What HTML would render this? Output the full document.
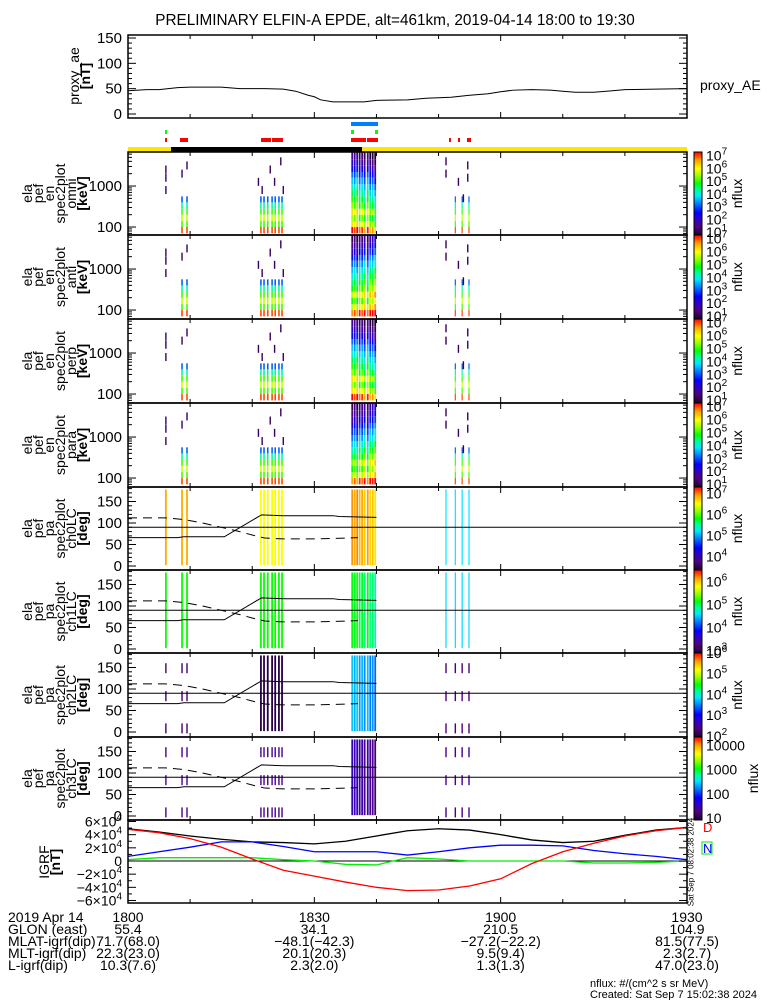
<!DOCTYPE html>
<html><head><meta charset="utf-8"><style>
html,body{margin:0;padding:0;background:#fff;}
svg{display:block;font-family:"Liberation Sans",sans-serif;}
</style></head><body>
<svg id="chart" width="775" height="1000" viewBox="0 0 775 1000" xmlns="http://www.w3.org/2000/svg">
<defs>
<linearGradient id="cmap" x1="0" y1="1" x2="0" y2="0">
<stop offset="0" stop-color="#1a0030"/><stop offset="0.1" stop-color="#500080"/><stop offset="0.2" stop-color="#2a00d0"/><stop offset="0.27" stop-color="#0000ff"/><stop offset="0.38" stop-color="#0080ff"/><stop offset="0.47" stop-color="#00e8ff"/><stop offset="0.55" stop-color="#00ff90"/><stop offset="0.62" stop-color="#00ff00"/><stop offset="0.72" stop-color="#a0ff00"/><stop offset="0.8" stop-color="#ffff00"/><stop offset="0.9" stop-color="#ffa000"/><stop offset="1" stop-color="#ff0000"/>
</linearGradient>
</defs>
<text x="395" y="25" font-size="15.3" text-anchor="middle">PRELIMINARY ELFIN-A EPDE, alt=461km, 2019-04-14 18:00 to 19:30</text>
</svg>
<script>
// ---------- data ----------
const aeTimes=[0,3,5,8,10,15,18,22,25,27,29,30,31,33,38,40,45,48,52,55,58,60,62,65,68,70,72,75,78,80,85,90];
const aeValues=[46,48,48,52,53,53,50,50,49,45,37,34,28,24,24,27,28,31,33,37,40,44,47,48,47,45,43,43,46,48,49,50];
const aeTicks=[0,50,100,150];
const earlyTimes=[8.7,9.5];
const midTimes=[21.4,21.9,22.5,23.2,23.7,24.3,24.8];
const bigTimes=[36.1,36.5,36.9,37.3,37.7,38.1,38.6,39.0,39.4,39.8];
const lateTimes=[52.7,53.8,54.9];
const bigOffsets=[0.3,0,0.4,-0.2,0.1,-0.4,0.2,-0.6,-0.3,-0.8];
const energyEdges=[70,100,140,200,280,400,560,800,1100,1600,2200,3200,4500,6400,9000];
const smallSpec=[6.9,5.0,5.6,5.0,4.2,3.0,null,null,null,null,null,null,null,null];
const bigSpec=[6.9,5.8,5.1,5.8,5.0,4.6,4.2,3.8,3.3,2.8,2.2,1.7,1.3,1.1];
const bigSpecPara=[6.8,5.6,5.0,5.5,4.8,4.3,3.9,3.4,3.0,2.5,2.0,1.6,1.3,1.1];
const dashTimes=[6.1,6.1,6.1,9.5,8.7,21.0,21.6,22.9,23.6,24.6,25.0,51.2,51.2,54.0,54.7,54.7,53.2];
const dashLogE=[3.5,3.3,3.0,3.6,3.4,3.2,3.0,3.5,3.2,3.7,3.0,3.7,3.4,2.8,3.6,3.3,3.2];
const specTicks=[100,1000];
const paTicks=[0,50,100,150];
// pitch-angle channel flux (log10) per group: early, mid, big, late
const paEarlyTimes=[6.1,8.7,9.5];
const paLateTimes=[51.2,52.7,53.8,54.9];
const ch0Vals=[6.8,6.45,6.8,5.15];
const ch1Vals=[5.1,5.1,5.0,4.5];
const ch2Vals=[2.2,2.0,3.6,2.3];
const ch3Vals=[1.3,1.3,1.4,1.3];
const ch0Cover=[1,1,1,1], ch1Cover=[1,1,1,1], ch2Cover=[0,1,1,0], ch3Cover=[0,0,1,0];
const lcTimes=[0,8,9,15.5,21.5,25,33,34,40];
const lcValues=[66,66,68,68,119,117,117,115,113];
const alcTimes=[0,6,9,12,15,18,20,22,25,30,35,37];
const alcValues=[112,112,108,100,90,80,72,65,63,63,65,66];
const igrfTimes=[0,5,10,15,20,25,30,35,40,45,50,55,60,65,70,75,80,85,90];
const igrfBlack=[4.9,4.4,3.8,3.3,2.9,2.8,2.6,3.0,3.8,4.6,4.9,4.7,4.0,3.2,2.8,3.0,3.9,4.7,5.1];
const igrfRed=[4.8,4.3,3.4,2.1,0.3,-1.4,-2.3,-3.2,-4.0,-4.5,-4.4,-3.8,-2.7,-0.4,1.4,2.7,3.8,4.6,5.1];
const igrfBlue=[0.7,1.4,2.1,2.9,2.9,2.2,1.4,1.4,1.4,0.9,1.4,2.0,2.4,2.4,2.3,1.6,1.1,0.7,0.2];
const igrfGreen=[0.2,0.5,0.5,0.5,0.5,0.2,0.0,-0.5,-0.6,0.5,0.3,0.0,0.0,0.0,0.0,-0.3,-0.3,-0.2,0.0];
const igrfTickVals=[6,4,2,0,-2,-4,-6];
const timeLabels=["1800","1830","1900","1930"];
const rowLabels=["2019 Apr 14","GLON (east)","MLAT-igrf(dip)","MLT-igrf(dip)","L-igrf(dip)"];
const rowVals=[["1800","55.4","71.7(68.0)","22.3(23.0)","10.3(7.6)"],["1830","34.1","−48.1(−42.3)","20.1(20.3)","2.3(2.0)"],["1900","210.5","−27.2(−22.2)","9.5(9.4)","1.3(1.3)"],["1930","104.9","81.5(77.5)","2.3(2.7)","47.0(23.0)"]];

// ---------- helpers ----------
const svg=document.getElementById('chart');
const NS='http://www.w3.org/2000/svg';
const X0=128,X1=687;
function xs(t){return X0+t/90*(X1-X0);}
function mk(tag,attrs,parent){const e=document.createElementNS(NS,tag);for(const k in attrs)e.setAttribute(k,attrs[k]);(parent||svg).appendChild(e);return e;}
const stops=[[0,[26,0,48]],[0.1,[80,0,128]],[0.2,[42,0,208]],[0.27,[0,0,255]],[0.38,[0,128,255]],[0.47,[0,232,255]],[0.55,[0,255,144]],[0.62,[0,255,0]],[0.72,[160,255,0]],[0.8,[255,255,0]],[0.9,[255,160,0]],[1,[255,0,0]]];
function cmap(f){f=Math.max(0,Math.min(1,f));for(let i=1;i<stops.length;i++){if(f<=stops[i][0]){const a=stops[i-1],b=stops[i];const u=(f-a[0])/(b[0]-a[0]);const c=a[1].map((v,j)=>Math.round(v+(b[1][j]-v)*u));return 'rgb('+c.join(',')+')';}}return 'rgb(255,0,0)';}
function rotText(x,y,txt,size,name,parent){const t=mk('text',{x:0,y:0,'font-size':size,'text-anchor':'middle','dominant-baseline':'central',transform:'translate('+x+','+y+') rotate(-90)'},parent);t.textContent=txt;return t;}
function frame(top,bot,name){const g=mk('g',{});return g;}
function frameBox(g,top,bot){mk('rect',{x:X0,y:top,width:X1-X0,height:bot-top,fill:'none',stroke:'#000','stroke-width':1.5},g);for(let m=10;m<90;m+=10){const x=xs(m);const L=(m%30==0)?6:4;mk('line',{x1:x,x2:x,y1:top,y2:top+L,stroke:'#000'},g);mk('line',{x1:x,x2:x,y1:bot,y2:bot-L,stroke:'#000'},g);}}
function ytick(g,y,L){mk('line',{x1:X0,x2:X0+L,y1:y,y2:y,stroke:'#000'},g);mk('line',{x1:X1,x2:X1-L,y1:y,y2:y,stroke:'#000'},g);}
function ylabel(g,y,txt){const t=mk('text',{x:122,y:y+5,'font-size':15,'text-anchor':'end'},g);t.textContent=txt;}
function leftLabels(g,lines,cy,x0,name){lines.forEach((s,i)=>{const t=rotText(x0+i*11,cy,s,14,name+'-line',g);if(s.startsWith('['))t.setAttribute('font-weight','bold');});}

// ---------- AE panel ----------
(function(){
 const top=35,bot=118;const g=frame(top,bot,'proxy-ae-panel');
 const ya=v=>114-v*(76/150);
 frameBox(g,top,bot);
 for(let v=0;v<=160;v+=10){ if(ya(v)>top) ytick(g,ya(v),v%50==0?8:4);}
 aeTicks.forEach(v=>ylabel(g,ya(v),String(v)));
 const pts=aeTimes.map((t,i)=>xs(t)+','+ya(aeValues[i])).join(' ');
 const pl=mk('polyline',{points:pts,fill:'none',stroke:'#000','stroke-width':1},g);
 
 leftLabels(g,['proxy_ae','[nT]'],76,74,'ae-axis-title');
 const t=mk('text',{x:700,y:90,'font-size':14},g);t.textContent='proxy_AE';
})();

// ---------- status bars ----------
(function(){
 const g=mk('g',{});
 const bars=[[351,378,122,'#0080ff'],[351,354,130,'#00ff00'],[375,378,130,'#00ff00'],[165,167,130,'#00ff00'],[165,167,138,'#ff0000'],[180,188,138,'#ff0000'],[261,271,138,'#ff0000'],[272,283,138,'#ff0000'],[351,366,138,'#ff0000'],[367,378,138,'#ff0000'],[449,451,138,'#ff0000'],[458,460,138,'#ff0000'],[467,471,138,'#ff0000'],[128,171,147,'#ffe600'],[171,362,147,'#000'],[362,687,147,'#ffe600']];
 bars.forEach(b=>{const r=mk('rect',{x:b[0],y:b[2],width:b[1]-b[0],height:b[2]==147?5:4,fill:b[3]},g);});
})();

// ---------- spectra panels ----------
const tops=[152,235,319,403,487,570,653,737,820,903];
const specNames=['omni','anti','perp','para'];
const cbRanges=[[0.7,7.2],[0.7,7.2],[0.7,7.2],[0.7,7.2],[3.3,7.25],[2.85,6.45],[1.9,5.95],[0.88,4.3]];
const cbLabels=[[1,2,3,4,5,6,7],[1,2,3,4,5,6,7],[1,2,3,4,5,6,7],[1,2,3,4,5,6,7],[4,5,6,7],[3,4,5,6],[2,3,4,5,6],[1,2,3,4]];
function colorbar(p,top,bot){
 const g=mk('g',{});
 mk('rect',{x:694,y:top,width:8,height:bot-top,fill:'url(#cmap)',stroke:'#000','stroke-width':1},g);
 const [a,b]=cbRanges[p];
 cbLabels[p].forEach(e=>{const y=bot-(e-a)/(b-a)*(bot-top);
  const t=mk('text',{x:706,y:y+6,'font-size':14},g);
  if(p==7){t.textContent=String(Math.pow(10,e));}else{t.textContent='10';const s=mk('tspan',{dy:-6,'font-size':10},t);s.textContent=String(e);}
 });
 rotText(p==7?753:737,(top+bot)/2,'nflux',14,'colorbar-title',g);
}
for(let p=0;p<4;p++){
 const top=tops[p],bot=tops[p+1];const g=frame(top,bot,'spectrum-panel-'+specNames[p]);
 const ye=E=>top+(3.83-Math.log10(E))*41;
 const [a,b]=cbRanges[p];const col=v=>cmap((v-a)/(b-a));
 const clip=(y)=>Math.max(top,Math.min(bot,y));
 function drawCol(t,spec,off,w){for(let k=0;k<spec.length;k++){if(spec[k]==null)continue;const y1=clip(ye(energyEdges[k+1])),y2=clip(ye(energyEdges[k]));if(y2-y1<=0)continue;const r=mk('rect',{x:xs(t)-w/2,y:y1,width:w,height:y2-y1,fill:col(spec[k]+off)},g);}}
 earlyTimes.forEach(t=>drawCol(t,smallSpec,0,1.6));
 midTimes.forEach(t=>drawCol(t,smallSpec,0,1.6));
 lateTimes.forEach(t=>drawCol(t,smallSpec,0,1.2));
 bigTimes.forEach((t,i)=>drawCol(t,p==3?bigSpecPara:bigSpec,bigOffsets[i]*(p%2?-1:1),1.8));
 dashTimes.forEach((t,i)=>{const y=top+(3.83-dashLogE[i])*41;const r=mk('rect',{x:xs(t)-0.7,y:y,width:1.4,height:8,fill:'#3a0060'},g);});
 frameBox(g,top,bot);
 for(let d=1;d<=1000;d*=10){for(let m=1;m<10;m++){const y=ye(d*m);if(y>top&&y<bot)ytick(g,y,m==1?8:4);}}
 specTicks.forEach(v=>ylabel(g,ye(v),String(v)));
 leftLabels(g,['ela','pef','en','spec2plot',specNames[p],'[keV]'],(top+bot)/2,27,'spectrum-axis-title');
 colorbar(p,top,bot);
}
// ---------- pitch-angle panels ----------
const chVals=[ch0Vals,ch1Vals,ch2Vals,ch3Vals];const chCover=[ch0Cover,ch1Cover,ch2Cover,ch3Cover];
for(let c=0;c<4;c++){
 const p=c+4,top=tops[p],bot=tops[p+1];const g=frame(top,bot,'pitch-angle-panel-ch'+c);
 const ypa=v=>top+79-v*0.43;
 const [a,b]=cbRanges[p];const col=v=>cmap((v-a)/(b-a));
 const groups=[paEarlyTimes,midTimes,bigTimes,paLateTimes];
 groups.forEach((arr,gi)=>{arr.forEach((t,i)=>{const v=chVals[c][gi]+(gi==2?bigOffsets[i]*0.3:0);const w=gi==2?1.8:(gi==3?1.2:1.8);
  if(chCover[c][gi]){const r=mk('rect',{x:xs(t)-w/2,y:ypa(178),width:w,height:ypa(2)-ypa(178),fill:col(v)},g);}
  else{[160,95,20].forEach(pa=>{const r=mk('rect',{x:xs(t)-0.7,y:ypa(pa),width:1.4,height:10,fill:col(v)},g);});}
 });});
 const l90=mk('line',{x1:X0,x2:X1,y1:ypa(90),y2:ypa(90),stroke:'#000'},g);
 const lc=mk('polyline',{points:lcTimes.map((t,i)=>xs(t)+','+ypa(lcValues[i])).join(' '),fill:'none',stroke:'#000'},g);
 const alc=mk('polyline',{points:alcTimes.map((t,i)=>xs(t)+','+ypa(alcValues[i])).join(' '),fill:'none',stroke:'#000','stroke-dasharray':'9,6'},g);
 frameBox(g,top,bot);
 for(let v=0;v<=180;v+=10)ytick(g,ypa(v),v%50==0?8:4);
 paTicks.forEach(v=>ylabel(g,ypa(v),String(v)));
 leftLabels(g,['ela','pef','pa','spec2plot','ch'+c+'LC','[deg]'],(top+bot)/2,27,'pa-axis-title');
 colorbar(p,top,bot);
}
// ---------- IGRF panel ----------
(function(){
 const top=820,bot=903;const g=frame(top,bot,'igrf-panel');
 const yi=v=>861-v/6*39.5;
 const z=mk('line',{x1:X0,x2:X1,y1:yi(0),y2:yi(0),stroke:'#000'},g);
 [[igrfBlack,'#000','igrf-total'],[igrfBlue,'#0000ff','igrf-blue'],[igrfGreen,'#00ee00','igrf-green'],[igrfRed,'#ff0000','igrf-red']].forEach(s=>{
  const l=mk('polyline',{points:igrfTimes.map((t,i)=>xs(t)+','+yi(s[0][i])).join(' '),fill:'none',stroke:s[1],'stroke-width':1.3},g);});
 frameBox(g,top,bot);
 for(let v=-6;v<=6;v+=1){ytick(g,yi(v),v%2==0?8:4);}
 igrfTickVals.forEach(v=>{const t=mk('text',{x:122,y:yi(v)+5,'font-size':14,'text-anchor':'end'},g);
  if(v==0)t.textContent='0';else{t.textContent=(v<0?'−':'')+Math.abs(v)+'×10';const s=mk('tspan',{dy:-6,'font-size':10},t);s.textContent='4';}});
 leftLabels(g,['IGRF','[nT]'],862,44,'igrf-axis-title');
 const d=mk('text',{x:703,y:832,'font-size':13,fill:'#ff0000'},g);d.textContent='D';
 const n=mk('text',{x:703,y:853,'font-size':13,fill:'#0000ff',stroke:'none'},g);n.textContent='N';
 mk('rect',{x:702,y:842,width:10,height:12,fill:'none',stroke:'#00ee00'},g);
 rotText(691,862,'Sat Sep  7 08:02:38 2024',8,'timestamp-vertical',g);
})();
// ---------- bottom annotations ----------
(function(){
 const g=mk('g',{});
 const ys=[922,934,946,958,970];const tx=[0,30,60,90];
 rowLabels.forEach((s,i)=>{const t=mk('text',{x:8,y:ys[i],'font-size':14},g);t.textContent=s;});
 rowVals.forEach((col,j)=>{col.forEach((s,i)=>{const t=mk('text',{x:xs(tx[j]),y:ys[i],'font-size':14,'text-anchor':'middle'},g);t.textContent=s;});});
 const a=mk('text',{x:590,y:987,'font-size':11},g);a.textContent='nflux: #/(cm^2 s sr MeV)';
 const b=mk('text',{x:590,y:998,'font-size':11},g);b.textContent='Created: Sat Sep  7 15:02:38 2024';
})();
</script>
</body></html>
